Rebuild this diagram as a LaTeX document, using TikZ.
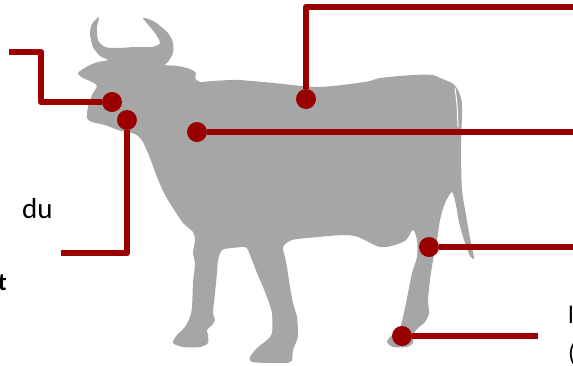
\documentclass[tikz,border=0pt]{standalone}
\usepackage{fontspec}
\setmainfont{Carlito}
\definecolor{cowgray}{RGB}{166,166,166}
\definecolor{darkred}{RGB}{155,0,0}

\begin{document}
\begin{tikzpicture}[x=1pt,y=-1pt]

\tikzstyle{dotnode}=[circle, minimum size = 20pt, inner sep=0pt, fill=darkred]
\tikzstyle{leader}=[line width=6.5pt, draw=darkred, line join=round]
\tikzstyle{txt}=[inner sep=0pt, font=\fontsize{25}{30}\selectfont]

\useasboundingbox (0,0) rectangle (573,365);

% silhouette
\fill[cowgray] plot[smooth cycle, tension=0.45] coordinates {
 (99,17) (92,24) (90,34) (93,47) (100,56) (108,60) (98,62) (88,66) (80,71) (78,74)
 (83,78) (92,82) (97,86) (92,95) (88,107) (87,118) (92,122) (105,125) (118,130)
 (132,133) (138,136) (143,142) (150,158) (157,177) (165,195) (173,208) (183,223)
 (193,232) (195,240) (193,253) (195,263) (193,283) (192,307) (190,317) (185,327)
 (177,335) (173,343) (183,347) (200,347) (208,343) (208,335) (207,330) (212,325)
 (215,320) (213,313) (215,293) (217,273) (218,260) (222,250) (232,248) (245,247)
 (248,250) (252,260) (257,273) (263,287) (268,300) (272,313) (272,333) (267,340)
 (257,348) (250,357) (252,362) (270,363) (287,363) (292,360) (293,350) (297,340)
 (298,333) (297,317) (293,303) (290,287) (287,267) (285,257) (283,247) (292,240)
 (318,237) (344,235) (358,237) (380,247) (395,245) (406,240) (413,230) (417,240)
 (417,257) (412,273) (408,293) (405,308) (403,317) (400,327) (390,337) (387,342)
 (393,347) (407,347) (413,343) (413,335) (418,328) (425,322) (429,313) (428,300)
 (430,280) (433,260) (437,240) (440,220) (445,203) (452,192) (456,205) (459,222)
 (464,240) (470,256) (474,258) (470,238) (466,215) (462,190) (461,150) (462,105)
 (458,90) (452,83) (440,78) (433,75) (413,75) (380,78) (365,82) (318,87) (274,83)
 (238,80) (212,81) (200,82) (195,78) (196,73) (190,69) (178,66) (165,65) (168,62)
 (173,53) (173,43) (168,33) (155,22) (143,18) (155,33) (160,43) (152,47) (135,47)
 (118,48) (105,47) (98,40) (97,27)};
\draw[white, line width=1pt] plot[smooth] coordinates {(455,88) (457,105) (458,127)};

\node[dotnode] (mouth) at (112,102) {};
\node[dotnode] (cheek) at (127,120) {};
\node[dotnode] (back) at (306,99) {};
\node[dotnode] (shoulder) at (197,132) {};
\node[dotnode] (hock) at (429,247) {};
\node[dotnode] (hoof) at (402,336) {};

\coordinate (mouthend) at (9,52);
\coordinate (mouthbend) at (41,102);
\coordinate (cheekend) at (61,253);
\coordinate (backend) at (580,7);
\coordinate (shoulderend) at (580,132);
\coordinate (hockend) at (580,247);
\coordinate (hoofend) at (538,336);

\draw[leader] (mouthend) -| (mouthbend) -- (mouth);
\draw[leader] (cheek) |- (cheekend);
\draw[leader] (back) |- (backend);
\path (shoulder) [leader] edge (shoulderend);
\path (hock) [leader] edge (hockend);
\path (hoof) [leader] edge (hoofend);

\node[txt, anchor=base west, font=\fontsize{29}{34}\selectfont] (du) at (22,218) {du};
\node[txt, anchor=base east, font=\bfseries\fontsize{25}{30}\selectfont] (tt) at (7,290) {t};
\node[txt, anchor=base west] (ll) at (568,323) {l};
\node[txt, anchor=base west] (par) at (568,361) {(};

\end{tikzpicture}
\end{document}
